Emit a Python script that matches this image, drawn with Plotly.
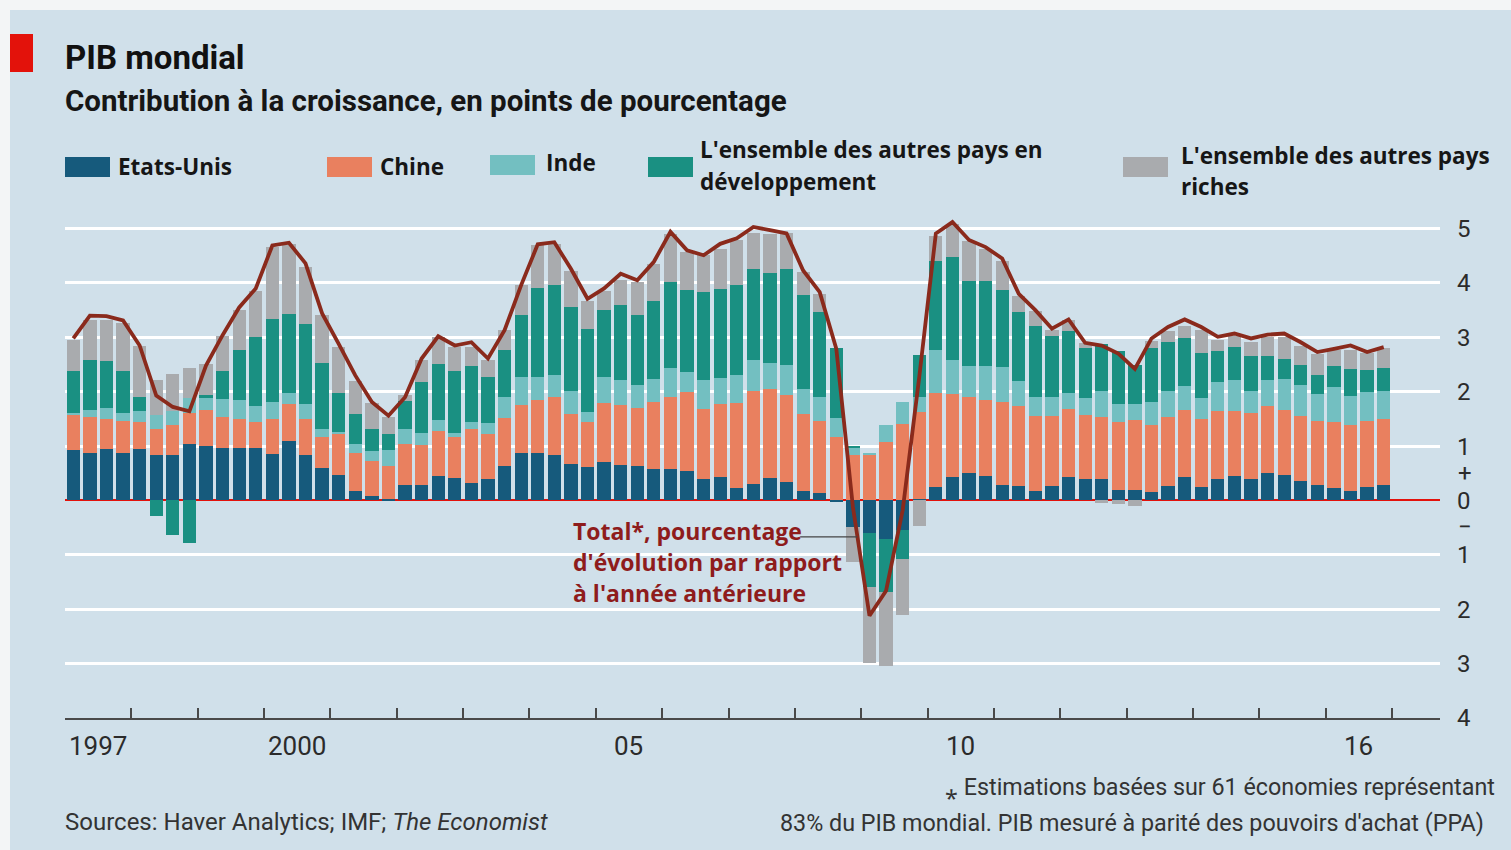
import plotly.graph_objects as go

# Quarterly contributions to world GDP growth, percentage points (1997Q1-2016Q4)
years = list(range(1997, 2017))
quarters = [(y, q) for y in years for q in range(1, 5)]

etats_unis = [
    0.92, 0.88, 0.95, 0.88, 0.95, 0.83, 0.83, 1.03,
    1.00, 0.96, 0.96, 0.96, 0.86, 1.10, 0.84, 0.60,
    0.46, 0.18, 0.09, 0.03, 0.28, 0.28, 0.45, 0.41,
    0.33, 0.40, 0.63, 0.88, 0.88, 0.83, 0.67, 0.61,
    0.71, 0.66, 0.64, 0.58, 0.58, 0.55, 0.40, 0.44,
    0.23, 0.31, 0.41, 0.34, 0.18, 0.13, -0.02, -0.48,
    -0.60, -0.71, -0.55, 0.02, 0.25, 0.44, 0.51, 0.45,
    0.29, 0.26, 0.18, 0.26, 0.44, 0.40, 0.39, 0.20,
    0.20, 0.15, 0.26, 0.43, 0.25, 0.39, 0.45, 0.39,
    0.51, 0.46, 0.35, 0.29, 0.23, 0.18, 0.25, 0.29,
]
chine = [
    0.67, 0.66, 0.55, 0.58, 0.50, 0.49, 0.56, 0.58,
    0.66, 0.57, 0.53, 0.49, 0.63, 0.67, 0.65, 0.57,
    0.77, 0.69, 0.64, 0.60, 0.75, 0.74, 0.82, 0.75,
    0.99, 0.83, 0.89, 0.88, 0.96, 1.07, 0.92, 0.83,
    1.09, 1.09, 1.07, 1.23, 1.32, 1.44, 1.29, 1.34,
    1.56, 1.70, 1.64, 1.60, 1.41, 1.34, 1.17, 0.83,
    0.84, 1.07, 1.40, 1.60, 1.72, 1.52, 1.39, 1.39,
    1.52, 1.47, 1.38, 1.30, 1.25, 1.17, 1.15, 1.24,
    1.28, 1.24, 1.27, 1.23, 1.25, 1.25, 1.19, 1.22,
    1.22, 1.21, 1.20, 1.18, 1.21, 1.21, 1.21, 1.21,
]
inde = [
    0.02, 0.13, 0.21, 0.15, 0.20, 0.25, 0.26, 0.28,
    0.23, 0.34, 0.35, 0.29, 0.33, 0.21, 0.29, 0.15,
    0.03, 0.17, 0.18, 0.29, 0.28, 0.23, 0.21, 0.09,
    0.13, 0.20, 0.38, 0.51, 0.43, 0.40, 0.43, 0.18,
    0.48, 0.46, 0.41, 0.43, 0.53, 0.37, 0.52, 0.47,
    0.52, 0.58, 0.47, 0.55, 0.46, 0.43, 0.34, 0.15,
    0.02, 0.31, 0.41, 0.28, 0.80, 0.63, 0.58, 0.64,
    0.64, 0.46, 0.34, 0.34, 0.28, 0.32, 0.48, 0.34,
    0.29, 0.42, 0.49, 0.45, 0.39, 0.53, 0.57, 0.40,
    0.49, 0.57, 0.58, 0.49, 0.64, 0.53, 0.54, 0.52,
]
autres_dev = [
    0.77, 0.91, 0.86, 0.77, 0.26, -0.28, -0.63, -0.78,
    0.05, 0.52, 0.92, 1.26, 1.51, 1.45, 1.46, 1.21,
    0.72, 0.55, 0.41, 0.31, 0.52, 0.93, 1.03, 1.13,
    1.02, 0.85, 0.87, 1.15, 1.63, 1.67, 1.53, 1.53,
    1.23, 1.38, 1.29, 1.42, 1.58, 1.52, 1.63, 1.64,
    1.66, 1.66, 1.67, 1.76, 1.72, 1.56, 1.29, 0.03,
    -1.00, -0.98, -0.52, 0.77, 1.63, 1.89, 1.55, 1.55,
    1.42, 1.28, 1.30, 1.12, 1.15, 0.91, 0.85, 0.97,
    0.72, 0.99, 0.89, 0.88, 0.82, 0.58, 0.61, 0.65,
    0.44, 0.37, 0.36, 0.34, 0.39, 0.49, 0.40, 0.41,
]
autres_riches = [
    0.58, 0.74, 0.74, 0.88, 0.93, 0.64, 0.67, 0.54,
    0.57, 0.64, 0.74, 0.86, 1.33, 1.28, 1.06, 0.88,
    0.85, 0.61, 0.48, 0.31, 0.11, 0.40, 0.49, 0.44,
    0.35, 0.31, 0.36, 0.54, 0.80, 0.75, 0.67, 0.52,
    0.34, 0.46, 0.60, 0.69, 0.89, 0.69, 0.67, 0.74,
    0.82, 0.66, 0.71, 0.66, 0.43, 0.34, 0.00, -0.66,
    -1.38, -1.35, -1.04, -0.46, 0.46, 0.61, 0.75, 0.60,
    0.54, 0.29, 0.29, 0.11, 0.20, 0.09, -0.04, -0.06,
    -0.10, 0.14, 0.21, 0.21, 0.43, 0.20, 0.21, 0.26,
    0.35, 0.40, 0.36, 0.40, 0.29, 0.35, 0.31, 0.37,
]
total = [
    2.98, 3.40, 3.39, 3.31, 2.85, 1.93, 1.72, 1.64,
    2.48, 3.04, 3.55, 3.90, 4.69, 4.74, 4.36, 3.44,
    2.88, 2.30, 1.81, 1.56, 1.90, 2.61, 3.02, 2.85,
    2.91, 2.61, 3.13, 3.96, 4.71, 4.75, 4.26, 3.71,
    3.90, 4.17, 4.05, 4.39, 4.94, 4.60, 4.51, 4.72,
    4.82, 5.03, 4.97, 4.91, 4.23, 3.83, 2.79, -0.12,
    -2.12, -1.66, -0.18, 2.27, 4.91, 5.12, 4.79, 4.66,
    4.45, 3.80, 3.50, 3.16, 3.33, 2.90, 2.85, 2.70,
    2.42, 2.98, 3.19, 3.33, 3.19, 3.01, 3.07, 2.98,
    3.05, 3.07, 2.91, 2.73, 2.79, 2.85, 2.73, 2.82,
]

series = [
    ("Etats-Unis", etats_unis, "#165a7c"),
    ("Chine", chine, "#e9805f"),
    ("Inde", inde, "#73bfc1"),
    ("L'ensemble des autres pays en développement", autres_dev, "#1a9082"),
    ("L'ensemble des autres pays riches", autres_riches, "#a9abae"),
]

year_labels = {1997: "1997", 2000: "2000", 2005: "05", 2010: "10", 2016: "16"}
y_ticks = [5, 4, 3, 2, 1, 0, -1, -2, -3, -4]

# decimal-year position of each quarter (centre of the quarter)
xq = [y + (q - 0.5) / 4 for (y, q) in quarters]

# page geometry
W, H = 1511, 850
L, R, T, B = 65, 1440, 215, 718
X0 = 1997
X1 = X0 + (R - L) / 66.35


def px(x):
    return (x - L) / (R - L)


def py(y):
    return (B - y) / (B - T)


BG = "#d0e0ea"
INK = "#2b2b2b"
SANS = "Roboto, 'Liberation Sans', sans-serif"
BOLD = "'Open Sans', 'DejaVu Sans', sans-serif"
LINE_RED = "#8a2a1c"

fig = go.Figure()
for name, vals, col in series:
    fig.add_trace(go.Bar(x=xq, y=vals, name=name, marker=dict(color=col, line=dict(width=0)),
                         width=0.2, showlegend=False))

fig.add_trace(go.Scatter(x=xq, y=total, mode="lines", name="Total",
                         line=dict(color=LINE_RED, width=3.8), showlegend=False))

shapes = [
    # pale page frame
    dict(type="rect", xref="paper", yref="paper", x0=px(0), x1=px(10), y0=py(850), y1=py(0),
         fillcolor="#f3f5f6", line=dict(width=0), layer="below"),
    dict(type="rect", xref="paper", yref="paper", x0=px(0), x1=px(W), y0=py(10), y1=py(0),
         fillcolor="#f3f5f6", line=dict(width=0), layer="below"),
    # red tag
    dict(type="rect", xref="paper", yref="paper", x0=px(10), x1=px(33), y0=py(72), y1=py(34),
         fillcolor="#e3120b", line=dict(width=0)),
    # leader from the label to the total line
    dict(type="line", xref="x", yref="y", x0=2008.08, x1=2008.94, y0=-0.67, y1=-0.67,
         line=dict(color="#444444", width=1.2)),
]

annotations = [
    dict(text="<b>PIB mondial</b>", x=px(63), y=py(57), font=dict(family=SANS, size=33, color="#111111")),
    dict(text="<b>Contribution à la croissance, en points de pourcentage</b>", x=px(63), y=py(101),
         font=dict(family=SANS, size=29.5, color="#161616")),
]

# legend: swatch + label
legend_items = [
    (series[0], 65, 167, 116, [("Etats-Unis", 166)]),
    (series[1], 327, 167, 378, [("Chine", 166)]),
    (series[2], 490, 165, 544, [("Inde", 162)]),
    (series[3], 648, 167, 698, [("L'ensemble des autres pays en", 149), ("développement", 181)]),
    (series[4], 1123, 167, 1179, [("L'ensemble des autres pays", 155), ("riches", 186)]),
]
for (name, _, col), sx, sy, tx, lines in legend_items:
    shapes.append(dict(type="rect", xref="paper", yref="paper", x0=px(sx), x1=px(sx + 45),
                       y0=py(sy + 10), y1=py(sy - 10), fillcolor=col, line=dict(width=0)))
    for txt, ty in lines:
        annotations.append(dict(text="<b>" + txt + "</b>", x=px(tx), y=py(ty),
                                font=dict(family=BOLD, size=22.5, color="#161616")))

# label for the total line
for txt, ty in [("Total*, pourcentage", 531), ("d'évolution par rapport", 562), ("à l'année antérieure", 593)]:
    annotations.append(dict(text="<b>" + txt + "</b>", x=px(571), y=py(ty),
                            font=dict(family=BOLD, size=23, color="#8e1c1c")))

# sign markers on the value axis
annotations.append(dict(text="+", x=px(1465), y=py(473), xanchor="center",
                        font=dict(family=SANS, size=24, color=INK)))
annotations.append(dict(text="−", x=px(1465), y=py(527), xanchor="center",
                        font=dict(family=SANS, size=24, color=INK)))

# year labels centred on their year
for yr, lab in year_labels.items():
    annotations.append(dict(text=lab, xref="x", x=yr + 0.5, y=py(746), xanchor="center",
                            font=dict(family=SANS, size=26, color=INK)))

# footnotes
annotations.append(dict(text="Sources: Haver Analytics; IMF; <i>The Economist</i>", x=px(63), y=py(822),
                        font=dict(family=SANS, size=24, color="#333333")))
annotations.append(dict(text="⁎ Estimations basées sur 61 économies représentant", x=px(1497), y=py(787),
                        xanchor="right", font=dict(family=SANS, size=23.3, color="#333333")))
annotations.append(dict(text="83% du PIB mondial. PIB mesuré à parité des pouvoirs d'achat (PPA)", x=px(1486),
                        y=py(823), xanchor="right", font=dict(family=SANS, size=23.3, color="#333333")))

for a in annotations:
    a.setdefault("xref", "paper")
    a.setdefault("yref", "paper")
    a.setdefault("xanchor", "left")
    a.setdefault("yanchor", "middle")
    a.setdefault("showarrow", False)

fig.update_layout(
    width=W, height=H,
    margin=dict(l=L, r=W - R, t=T, b=H - B, pad=0),
    paper_bgcolor=BG, plot_bgcolor="rgba(0,0,0,0)",
    barmode="relative", bargap=0,
    shapes=shapes, annotations=annotations,
    showlegend=False,
    xaxis=dict(range=[X0, X1], showgrid=False, zeroline=False,
               showline=True, linecolor="#4a4a4a", linewidth=2,
               tickmode="array", tickvals=list(range(1997, 2018)), ticktext=[""] * 21,
               ticks="inside", ticklen=10, tickwidth=1.5, tickcolor="#4a4a4a",
               fixedrange=True),
    yaxis=dict(range=[-4, 5.25], side="right", tickmode="array", tickvals=y_ticks,
               ticktext=[str(abs(v)) for v in y_ticks], ticks="", ticklabelstandoff=16,
               tickfont=dict(family=SANS, size=24, color=INK),
               showgrid=True, gridcolor="#ffffff", gridwidth=3,
               zeroline=True, zerolinecolor="#e3120b", zerolinewidth=2,
               showline=False, fixedrange=True),
)

fig.write_html("out.html")
